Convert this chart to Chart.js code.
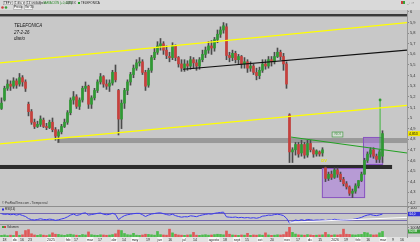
<!DOCTYPE html>
<html>
<head>
<meta charset="utf-8">
<title>TELEFONICA diario</title>
<script src="https://cdn.jsdelivr.net/npm/chart.js@4.4.1/dist/chart.umd.min.js"></script>
<style>
  html, body { margin: 0; padding: 0; width: 420px; height: 242px; overflow: hidden; background: #c8c8c8; }
  canvas { position: absolute; left: 0; }
  #precio { top: 0; }
  #rsi { top: 206px; }
  #volumen { top: 225px; }
</style>
</head>
<body>
<canvas id="precio" width="420" height="206"></canvas>
<canvas id="rsi" width="420" height="19"></canvas>
<canvas id="volumen" width="420" height="17"></canvas>
<script>
// Velas (una cada ~3 sesiones), dic 2024 - feb 2026
const opens = [
  5.09, 5.17, 5.28, 5.32, 5.30, 5.35, 5.32, 5.38, 5.34, 5.13,
  5.06, 4.96, 4.92, 4.94, 4.98, 4.92, 4.91, 4.96, 4.89, 4.83,
  4.87, 4.92, 4.96, 5.05, 5.17, 5.20, 5.11, 5.17, 5.28, 5.30,
  5.13, 5.19, 5.26, 5.34, 5.39, 5.32, 5.30, 5.33, 5.43, 5.26,
  4.99, 5.14, 5.26, 5.34, 5.41, 5.47, 5.52, 5.53, 5.43, 5.31,
  5.45, 5.57, 5.62, 5.68, 5.70, 5.64, 5.58, 5.57, 5.68, 5.57,
  5.51, 5.47, 5.51, 5.49, 5.55, 5.52, 5.49, 5.55, 5.60, 5.64,
  5.68, 5.66, 5.74, 5.79, 5.83, 5.86, 5.59, 5.57, 5.61, 5.55,
  5.58, 5.51, 5.53, 5.47, 5.49, 5.43, 5.40, 5.45, 5.51, 5.49,
  5.55, 5.53, 5.58, 5.62, 5.58, 5.51, 5.03, 4.68, 4.70, 4.75,
  4.67, 4.75, 4.65, 4.76, 4.70, 4.66, 4.68, 4.67, 4.53, 4.43,
  4.47, 4.44, 4.51, 4.47, 4.42, 4.38, 4.35, 4.29, 4.31, 4.36,
  4.41, 4.47, 4.60, 4.66, 4.70, 4.64, 4.61, 4.64
];
const closes = [
  5.14, 5.28, 5.32, 5.30, 5.35, 5.31, 5.38, 5.34, 5.28, 5.06,
  4.96, 4.92, 4.94, 4.99, 4.92, 4.91, 4.96, 4.89, 4.83, 4.87,
  4.92, 4.96, 5.05, 5.17, 5.20, 5.11, 5.17, 5.28, 5.30, 5.13,
  5.19, 5.26, 5.34, 5.39, 5.32, 5.30, 5.33, 5.43, 5.36, 4.99,
  5.14, 5.26, 5.34, 5.41, 5.47, 5.52, 5.53, 5.43, 5.30, 5.45,
  5.57, 5.62, 5.68, 5.70, 5.64, 5.59, 5.57, 5.68, 5.57, 5.51,
  5.47, 5.51, 5.49, 5.55, 5.52, 5.49, 5.55, 5.60, 5.64, 5.68,
  5.66, 5.74, 5.79, 5.83, 5.87, 5.59, 5.57, 5.61, 5.55, 5.58,
  5.51, 5.53, 5.47, 5.49, 5.43, 5.40, 5.45, 5.51, 5.49, 5.55,
  5.53, 5.58, 5.62, 5.58, 5.51, 5.32, 4.68, 4.70, 4.75, 4.66,
  4.75, 4.65, 4.76, 4.70, 4.66, 4.69, 4.66, 4.70, 4.43, 4.47,
  4.44, 4.51, 4.47, 4.42, 4.38, 4.35, 4.29, 4.31, 4.36, 4.41,
  4.47, 4.60, 4.66, 4.70, 4.64, 4.61, 4.68, 4.853
];
const highs = [
  5.19, 5.30, 5.36, 5.35, 5.38, 5.37, 5.42, 5.40, 5.36, 5.15,
  5.08, 4.99, 4.97, 5.02, 5.00, 4.95, 4.98, 5.00, 4.91, 4.89,
  4.94, 4.99, 5.07, 5.19, 5.25, 5.22, 5.19, 5.30, 5.34, 5.31,
  5.21, 5.28, 5.36, 5.42, 5.40, 5.36, 5.36, 5.45, 5.50, 5.27,
  5.17, 5.28, 5.36, 5.43, 5.50, 5.55, 5.57, 5.55, 5.45, 5.47,
  5.59, 5.66, 5.72, 5.75, 5.72, 5.68, 5.62, 5.71, 5.69, 5.58,
  5.55, 5.55, 5.54, 5.58, 5.57, 5.55, 5.57, 5.64, 5.67, 5.72,
  5.73, 5.76, 5.83, 5.86, 5.90, 5.89, 5.62, 5.64, 5.63, 5.60,
  5.59, 5.57, 5.55, 5.53, 5.51, 5.47, 5.48, 5.55, 5.55, 5.58,
  5.58, 5.62, 5.66, 5.64, 5.61, 5.53, 5.04, 4.72, 4.77, 4.77,
  4.79, 4.77, 4.79, 4.79, 4.72, 4.70, 4.69, 4.72, 4.54, 4.49,
  4.50, 4.53, 4.53, 4.49, 4.44, 4.40, 4.36, 4.33, 4.38, 4.41,
  4.49, 4.62, 4.68, 4.72, 4.72, 4.66, 4.70, 4.88
];
const lows = [
  5.08, 5.16, 5.26, 5.26, 5.28, 5.28, 5.30, 5.30, 5.25, 5.02,
  4.94, 4.90, 4.91, 4.92, 4.91, 4.89, 4.90, 4.87, 4.79, 4.77,
  4.85, 4.91, 4.94, 5.03, 5.13, 5.09, 5.08, 5.15, 5.25, 5.09,
  5.09, 5.17, 5.24, 5.32, 5.29, 5.27, 5.25, 5.31, 5.34, 4.84,
  4.90, 5.09, 5.22, 5.31, 5.38, 5.45, 5.49, 5.41, 5.26, 5.29,
  5.43, 5.55, 5.60, 5.64, 5.60, 5.56, 5.53, 5.55, 5.54, 5.48,
  5.44, 5.44, 5.45, 5.46, 5.47, 5.45, 5.46, 5.53, 5.57, 5.61,
  5.60, 5.63, 5.71, 5.76, 5.80, 5.55, 5.53, 5.54, 5.52, 5.51,
  5.47, 5.47, 5.43, 5.44, 5.41, 5.36, 5.37, 5.43, 5.46, 5.47,
  5.49, 5.51, 5.57, 5.55, 5.45, 5.28, 4.58, 4.58, 4.65, 4.63,
  4.64, 4.62, 4.63, 4.68, 4.63, 4.64, 4.64, 4.64, 4.40, 4.41,
  4.42, 4.43, 4.44, 4.40, 4.36, 4.33, 4.27, 4.25, 4.29, 4.34,
  4.40, 4.47, 4.58, 4.63, 4.62, 4.58, 4.58, 4.58
];
// Volumen en millones
const volumes = [
  18, 22, 15, 20, 17, 60, 19, 24, 70, 80,
  35, 22, 18, 25, 20, 16, 24, 45, 30, 28,
  22, 18, 26, 30, 24, 20, 18, 27, 22, 55,
  25, 20, 18, 24, 22, 19, 21, 26, 35, 75,
  70, 38, 25, 22, 40, 20, 18, 22, 30, 28,
  24, 20, 60, 26, 22, 20, 85, 45, 30, 22,
  20, 18, 22, 24, 50, 20, 18, 22, 25, 20,
  22, 26, 30, 28, 24, 65, 30, 22, 20, 18,
  22, 20, 40, 18, 22, 20, 24, 20, 45, 22,
  18, 20, 24, 22, 26, 55, 105, 50, 32, 24,
  22, 20, 26, 22, 18, 20, 22, 24, 50, 26,
  20, 24, 22, 26, 85, 30, 28, 24, 22, 26,
  28, 50, 45, 26, 22, 24, 45, 60
];
// RSI (14)
const rsiValues = [
  66, 62, 64, 60, 63, 58, 62, 56, 50, 38,
  32, 30, 33, 37, 33, 32, 35, 33, 28, 31,
  36, 40, 48, 58, 64, 56, 60, 68, 71, 58,
  61, 64, 68, 70, 63, 60, 62, 68, 62, 32,
  45, 55, 60, 63, 66, 68, 68, 60, 50, 58,
  64, 67, 70, 71, 66, 61, 58, 63, 55, 50,
  46, 49, 48, 54, 52, 49, 55, 59, 62, 65,
  63, 68, 71, 73, 75, 48, 46, 45, 47, 43,
  45, 42, 44, 41, 43, 40, 44, 52, 54, 58,
  57, 61, 63, 60, 55, 40, 13, 22, 30, 26,
  32, 27, 33, 31, 28, 30, 29, 31, 27, 30,
  29, 34, 32, 30, 30, 31, 30, 33, 36, 40,
  45, 53, 58, 61, 57, 55, 59, 64
];
const rsiLevels = [70, 30];

// Eje de fechas (posición en velas y texto)
const dateTickIdx = [1, 4.5, 6.8, 9.5, 16.5, 22.2, 24.8, 29.5, 32.8, 37.5, 40.8, 44.5, 48.8, 52.8, 56.2, 60.8, 64.5,
  70.8, 74.5, 78.5, 81.8, 86.2, 90.2, 95.2, 98.8, 102.8, 106.2, 111.2, 114.8, 118.8, 122.2, 127.2, 130.5, 133.5];
const dateTickText = ['18', 'dic', '16', '23', '2025', 'feb', '17', 'mar', '17', 'abr', '14', 'may', '19', 'jun', '16', 'jul', '14',
  'agosto', '18', 'sept', '15', 'oct', '20', 'nov', '17', 'dic', '15', '2026', '19', 'feb', '16', 'mar', '9', '16'];
const monthTicks = ['dic', '2025', 'feb', 'mar', 'abr', 'may', 'jun', 'jul', 'agosto', 'sept', 'oct', 'nov', '2026'];

const titulo = ['TELEFONICA', '27-2-26', 'diario'];

// Dibujos del analista: [vela, precio]
const canalSuperior = [[-0.5, 5.52], [135.17, 5.90]];
const canalInferior = [[-0.5, 4.755], [135.17, 5.12]];
const directrizNegra = [[60.5, 5.46], [135.17, 5.64]];
const directrizVerde = [[96.5, 4.82], [135.17, 4.67]];
const objetivo = [[126.2, 4.68], [126.2, 5.17]];
const divergenciaRsi = [[96, 17], [135.17, 45]];
// Bandas y cajas: [vela inicio, vela fin, precio arriba, precio abajo]
const bandaSuperior = [-0.5, 135.17, 5.981, 5.958];
const bandaGris = [18.5, 135.17, 4.811, 4.764];
const bandaNegra = [-0.5, 130.2, 4.557, 4.519];
const cajaBaja = [106.8, 121.2, 4.528, 4.245];
const cajaAlta = [120.5, 127.2, 4.821, 4.557];
const cajaRoi = [110.2, 113.8, 4.868, 4.821];
const marcaDv = [106.6, 4.60];

Chart.defaults.font.family = '"Liberation Sans", Arial, sans-serif';
Chart.defaults.animation = false;

const X_MIN = -0.5, X_MAX = 135.17;
const n = closes.length;
const idx = closes.map((c, i) => i);
const isUp = idx.map(i => closes[i] >= opens[i]);
const coma = (v, d) => v.toFixed(d).replace('.', ',');

const xHidden = { type: 'linear', min: X_MIN, max: X_MAX, offset: false, display: false };
const fixRight = s => { s.width = 13; s.paddingTop = 0; s.paddingBottom = 0; };
const tickFont = { size: 4 };

const linea = (pts, color, w, extra) => Object.assign({
  type: 'line',
  data: pts.map(p => ({ x: p[0], y: p[1] })),
  borderColor: color,
  borderWidth: w,
  pointRadius: 0,
  fill: false,
  order: 1
}, extra || {});

// Grafico de precios
const dibujoPrecio = {
  id: 'dibujoPrecio',
  beforeDatasetsDraw(chart) {
    const { ctx, scales: { x, y } } = chart;
    const rect = (b, fill, stroke) => {
      const x0 = x.getPixelForValue(b[0]), x1 = x.getPixelForValue(b[1]);
      const y0 = y.getPixelForValue(b[2]), y1 = y.getPixelForValue(b[3]);
      ctx.fillStyle = fill;
      ctx.fillRect(x0, y0, x1 - x0, y1 - y0);
      if (stroke) {
        ctx.strokeStyle = stroke;
        ctx.lineWidth = 1;
        ctx.strokeRect(x0 + 0.5, y0 + 0.5, x1 - x0 - 1, y1 - y0 - 1);
      }
    };
    ctx.save();
    rect(bandaSuperior, '#3a3a3a');
    rect(bandaGris, 'rgba(105,105,105,0.5)');
    rect(bandaNegra, '#2c2c2c');
    rect(cajaBaja, 'rgba(165,110,225,0.5)', '#8a55c0');
    rect(cajaAlta, 'rgba(165,110,225,0.5)', '#8a55c0');
    ctx.restore();
  },
  afterDraw(chart) {
    const { ctx, scales: { x, y } } = chart;
    ctx.save();
    ctx.textBaseline = 'middle';

    // titulo
    ctx.fillStyle = '#151515';
    ctx.font = 'italic 4.5px "Liberation Sans", Arial';
    titulo.forEach((t, k) => ctx.fillText(t, 14, 26 + k * 6.6));

    // caja ROI y marca DV
    const rx0 = x.getPixelForValue(cajaRoi[0]), rx1 = x.getPixelForValue(cajaRoi[1]);
    const ry0 = y.getPixelForValue(cajaRoi[2]), ry1 = y.getPixelForValue(cajaRoi[3]);
    ctx.fillStyle = 'rgba(220,235,220,0.6)';
    ctx.fillRect(rx0, ry0, rx1 - rx0, ry1 - ry0);
    ctx.strokeStyle = '#4a9a4a';
    ctx.lineWidth = 0.7;
    ctx.strokeRect(rx0, ry0, rx1 - rx0, ry1 - ry0);
    ctx.fillStyle = '#3a8a3a';
    ctx.font = '3.5px "Liberation Sans", Arial';
    ctx.fillText('ROI', rx0 + 2.5, (ry0 + ry1) / 2);
    ctx.fillStyle = '#e8e400';
    ctx.font = 'bold 4px "Liberation Sans", Arial';
    ctx.fillText('DV', x.getPixelForValue(marcaDv[0]), y.getPixelForValue(marcaDv[1]));

    // punta del objetivo
    ctx.fillStyle = '#2f9a33';
    ctx.beginPath();
    ctx.arc(x.getPixelForValue(objetivo[1][0]), y.getPixelForValue(objetivo[1][1]), 1.4, 0, Math.PI * 2);
    ctx.fill();

    // ultimo precio en el eje
    const yp = y.getPixelForValue(closes[n - 1]);
    ctx.fillStyle = '#f0e400';
    ctx.fillRect(408, yp - 2.5, 12, 5);
    ctx.fillStyle = '#111';
    ctx.font = '3.5px "Liberation Sans", Arial';
    ctx.fillText(coma(closes[n - 1], 3), 409, yp);

    // copyright
    ctx.fillStyle = '#333';
    ctx.font = '3px "Liberation Sans", Arial';
    ctx.fillText('© ProRealTime.com - Tiempo real', 2, 203.5);

    // barra de herramientas
    ctx.fillStyle = '#d9d9d9';
    ctx.fillRect(0, 0, 420, 10);
    ctx.font = '3px "Liberation Sans", Arial';
    const caja = (x0, w, t, yy) => {
      ctx.fillStyle = '#f4f4f4';
      ctx.fillRect(x0, yy, w, 4);
      ctx.strokeStyle = '#8c8c8c';
      ctx.lineWidth = 0.5;
      ctx.strokeRect(x0 + 0.25, yy + 0.25, w - 0.5, 3.5);
      ctx.fillStyle = '#222';
      ctx.fillText(t, x0 + 1, yy + 2);
    };
    caja(3, 10, 'TEF ▾', 1);
    caja(14, 11, '1 día ▾', 1);
    caja(26, 15, '14 unidades ▾', 1);
    ctx.fillStyle = '#2a8a2a';
    ctx.fillText('VARIACIÓN (+0,44%)', 43, 3);
    ctx.fillStyle = '#222';
    ctx.fillText('4,853 €', 66, 3);
    ctx.fillStyle = '#2a9a2a';
    ctx.fillRect(78, 2, 2, 2);
    ctx.fillStyle = '#222';
    ctx.fillText('TELEFONICA', 81, 3);
    ctx.fillStyle = '#d04040';
    ctx.beginPath(); ctx.arc(2.5, 7.5, 1.3, 0, Math.PI * 2); ctx.fill();
    ctx.fillStyle = '#3aa03a';
    ctx.beginPath(); ctx.arc(6, 7.5, 1.3, 0, Math.PI * 2); ctx.fill();
    caja(13, 9, 'Precio', 5.5);
    caja(24, 9, 'Ver 30', 5.5);
    ctx.fillStyle = '#c83c3c'; ctx.fillRect(401, 1, 2, 3);
    ctx.fillStyle = '#3aa03a'; ctx.fillRect(403, 1, 2, 3);
    ctx.fillStyle = '#555';
    ctx.fillText('_ □ ×', 407, 3);
    ctx.restore();
  }
};

new Chart(document.getElementById('precio'), {
  type: 'bar',
  data: {
    datasets: [
      linea(canalSuperior, '#ffff00', 1.3),
      linea(canalInferior, '#ffff00', 1.3),
      linea(directrizNegra, '#111111', 1.2),
      linea(directrizVerde, '#22a022', 1),
      linea(objetivo, '#3cb43c', 1),
      {
        type: 'bar',
        data: idx.map(i => ({ x: i, y: [opens[i], closes[i]] })),
        backgroundColor: idx.map(i => isUp[i] ? '#2f9a33' : '#c8403c'),
        barPercentage: 1,
        categoryPercentage: 1,
        maxBarThickness: 2,
        minBarLength: 1,
        grouped: false,
        order: 2
      },
      {
        type: 'bar',
        data: idx.map(i => ({ x: i, y: [lows[i], highs[i]] })),
        backgroundColor: '#4b4b4b',
        barPercentage: 1,
        categoryPercentage: 1,
        maxBarThickness: 1,
        grouped: false,
        order: 3
      }
    ]
  },
  options: {
    responsive: false,
    events: [],
    layout: { padding: 0 },
    plugins: { legend: { display: false }, tooltip: { enabled: false } },
    scales: {
      x: xHidden,
      y: {
        position: 'right',
        min: 4.170,
        max: 6.113,
        grid: { display: true, drawOnChartArea: false, tickLength: 2, color: '#8a8a8a' },
        border: { display: true, color: '#9a9a9a' },
        ticks: {
          stepSize: 0.1,
          includeBounds: false,
          autoSkip: false,
          padding: 1,
          font: tickFont,
          color: '#333',
          callback: v => String(Math.round(v * 10) / 10).replace('.', ',')
        },
        afterBuildTicks: s => { s.ticks = s.ticks.filter(t => t.value >= s.min && t.value <= s.max); },
        afterFit: fixRight
      }
    }
  },
  plugins: [dibujoPrecio]
});

// RSI
const dibujoRsi = {
  id: 'dibujoRsi',
  beforeDatasetsDraw(chart) {
    const { ctx, chartArea, scales: { y } } = chart;
    ctx.save();
    ctx.strokeStyle = '#7468b0';
    ctx.lineWidth = 1;
    rsiLevels.forEach(v => {
      const yy = Math.round(y.getPixelForValue(v)) + 0.5;
      ctx.beginPath();
      ctx.moveTo(chartArea.left, yy);
      ctx.lineTo(chartArea.right, yy);
      ctx.stroke();
    });
    ctx.restore();
  },
  afterDraw(chart) {
    const { ctx, scales: { y } } = chart;
    ctx.save();
    ctx.strokeStyle = '#8e8e8e';
    ctx.lineWidth = 1;
    ctx.beginPath();
    ctx.moveTo(0, 0.5); ctx.lineTo(420, 0.5);
    ctx.moveTo(0, 18.5); ctx.lineTo(420, 18.5);
    ctx.stroke();
    ctx.textBaseline = 'middle';
    ctx.font = '3px "Liberation Sans", Arial';
    ctx.fillStyle = '#2a2ae0';
    ctx.fillRect(2, 2.5, 2, 2);
    ctx.fillStyle = '#222';
    ctx.fillText('RSI(14)', 5, 3.5);
    const yv = y.getPixelForValue(rsiValues[n - 1]);
    ctx.fillStyle = '#3434d8';
    ctx.fillRect(408, yv - 2.2, 12, 4.4);
    ctx.fillStyle = '#fff';
    ctx.fillText(coma(rsiValues[n - 1], 1), 409.5, yv);
    ctx.restore();
  }
};

new Chart(document.getElementById('rsi'), {
  type: 'line',
  data: {
    datasets: [
      linea(divergenciaRsi, '#ffffff', 1, { order: 0 }),
      {
        data: idx.map(i => ({ x: i, y: rsiValues[i] })),
        borderColor: '#3b3bf0',
        borderWidth: 1,
        pointRadius: 0,
        fill: false,
        order: 1
      }
    ]
  },
  options: {
    responsive: false,
    events: [],
    plugins: { legend: { display: false }, tooltip: { enabled: false } },
    scales: {
      x: xHidden,
      y: {
        position: 'right',
        min: 1.4,
        max: 110,
        grid: { display: true, drawOnChartArea: false, tickLength: 2, color: '#8a8a8a' },
        border: { display: true, color: '#9a9a9a' },
        ticks: { autoSkip: false, padding: 1, font: tickFont, color: '#333' },
        afterBuildTicks: s => { s.ticks = [{ value: 100 }]; },
        afterFit: fixRight
      }
    }
  },
  plugins: [dibujoRsi]
});

// Volumen y eje de fechas
const dibujoVolumen = {
  id: 'dibujoVolumen',
  beforeDraw(chart) {
    const { ctx, chartArea } = chart;
    ctx.save();
    ctx.fillStyle = '#e2e2e2';
    ctx.fillRect(0, chartArea.bottom, 420, 17 - chartArea.bottom);
    ctx.restore();
  },
  afterDraw(chart) {
    const { ctx, scales: { y } } = chart;
    ctx.save();
    ctx.textBaseline = 'middle';
    ctx.font = '3px "Liberation Sans", Arial';
    ctx.fillStyle = '#3aa03a';
    ctx.fillRect(2, 1, 2, 2);
    ctx.fillStyle = '#d04040';
    ctx.fillRect(4, 1, 2, 2);
    ctx.fillStyle = '#222';
    ctx.fillText('Volumen', 7, 2);
    const yv = y.getPixelForValue(volumes[n - 1]);
    ctx.fillStyle = '#3aa03a';
    ctx.fillRect(408, yv - 2, 12, 4);
    ctx.fillStyle = '#fff';
    ctx.fillText(volumes[n - 1] + ',0M', 409, yv);
    ctx.restore();
  }
};

new Chart(document.getElementById('volumen'), {
  type: 'bar',
  data: {
    datasets: [{
      data: idx.map(i => ({ x: i, y: volumes[i] })),
      backgroundColor: idx.map(i => isUp[i] ? '#4cbc4c' : '#e05858'),
      barPercentage: 1,
      categoryPercentage: 1,
      maxBarThickness: 2,
      grouped: false
    }]
  },
  options: {
    responsive: false,
    events: [],
    plugins: { legend: { display: false }, tooltip: { enabled: false } },
    scales: {
      x: {
        type: 'linear',
        min: X_MIN,
        max: X_MAX,
        offset: false,
        grid: { display: false, drawTicks: false },
        border: { display: false },
        ticks: {
          autoSkip: false,
          maxRotation: 0,
          minRotation: 0,
          padding: 0.5,
          font: { size: 3.5 },
          color: '#222',
          callback: (v, i) => dateTickText[i],
          showLabelBackdrop: c => monthTicks.includes(dateTickText[c.index]),
          backdropColor: '#fafafa',
          backdropPadding: 0.4
        },
        afterBuildTicks: s => { s.ticks = dateTickIdx.map(v => ({ value: v })); },
        afterFit: s => { s.height = 5; s.paddingLeft = 0; s.paddingRight = 0; }
      },
      y: {
        position: 'right',
        min: 0,
        max: 130,
        grid: { display: true, drawOnChartArea: false, tickLength: 2, color: '#8a8a8a' },
        border: { display: true, color: '#9a9a9a' },
        ticks: { autoSkip: false, padding: 1, font: tickFont, color: '#333', callback: v => v + 'M' },
        afterBuildTicks: s => { s.ticks = [{ value: 100 }]; },
        afterFit: fixRight
      }
    }
  },
  plugins: [dibujoVolumen]
});
</script>
</body>
</html>
